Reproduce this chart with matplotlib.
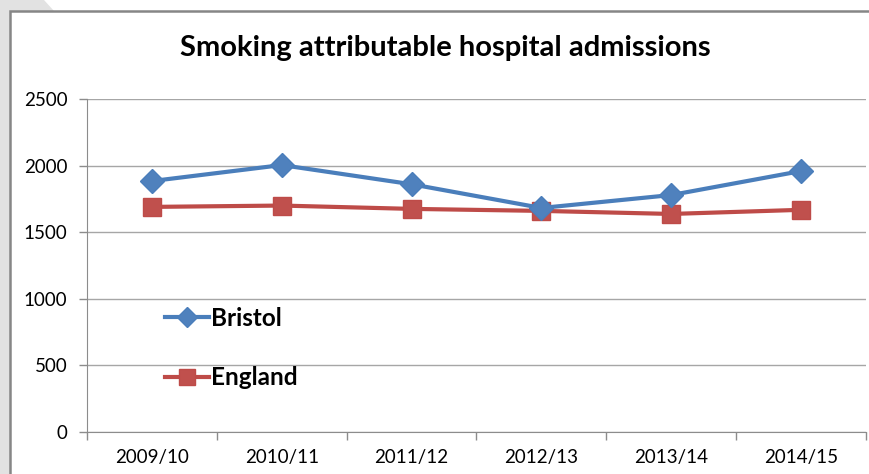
import matplotlib
matplotlib.use("Agg")
import matplotlib.pyplot as plt
from matplotlib.patches import Polygon, Rectangle

years = ["2009/10", "2010/11", "2011/12", "2012/13", "2013/14", "2014/15"]
bristol = [1884, 2004, 1860, 1682, 1779, 1959]
england = [1690, 1700, 1675, 1660, 1637, 1668]

plt.rcParams['font.family'] = ['Lato', 'DejaVu Sans']

fig = plt.figure(figsize=(8.7, 4.74), dpi=100)

# grey decoration outside the chart frame (pixel coords -> figure fractions)
W, H = 870.0, 474.0
def fx(x): return x / W
def fy(y): return 1 - y / H
grey = Polygon([(fx(0), fy(0)), (fx(44), fy(0)), (fx(54), fy(11)), (fx(10), fy(11)),
                (fx(10), fy(474)), (fx(0), fy(474))],
               closed=True, transform=fig.transFigure, facecolor="#e2e2e2",
               edgecolor="none", zorder=0)
fig.patches.append(grey)
# chart frame
frame = Rectangle((fx(10), fy(480)), fx(880) - fx(10), fy(11) - fy(480),
                  transform=fig.transFigure, facecolor="white",
                  edgecolor="#868686", linewidth=1.8, zorder=1)
fig.patches.append(frame)

ax = fig.add_axes([87 / W, 1 - 432 / H, 779 / W, 333 / H])
ax.set_facecolor("none")
ax.set_zorder(2)

x = list(range(len(years)))
ax.plot(x, bristol, color="#4a7ebb", linewidth=3, marker="D", markersize=12,
        markerfacecolor="#4f81bd", markeredgecolor="#4a7ebb", label="Bristol",
        solid_joinstyle="round", zorder=4)
ax.plot(x, england, color="#be4b48", linewidth=3, marker="s", markersize=13,
        markerfacecolor="#c0504d", markeredgecolor="#be4b48", label="England",
        zorder=3)

ax.set_xlim(-0.5, len(years) - 0.5)
ax.set_ylim(0, 2500)
ax.set_yticks([0, 500, 1000, 1500, 2000, 2500])
ax.set_xticks(x)
ax.set_xticklabels(years)
ax.set_xticks([i - 0.5 for i in range(len(years) + 1)], minor=True)
ax.tick_params(axis="x", which="major", length=0, pad=12, labelsize=13.5)
ax.tick_params(axis="x", which="minor", length=6, color="#8c8c8c", width=1)
ax.tick_params(axis="y", length=6, color="#8c8c8c", width=1, pad=8, labelsize=13.5)
ax.grid(axis="y", color="#a6a6a6", linewidth=1)
ax.set_axisbelow(True)
for side in ["top", "right"]:
    ax.spines[side].set_visible(False)
ax.spines["left"].set_color("#8c8c8c")
ax.spines["bottom"].set_color("#8c8c8c")

leg = ax.legend(loc="center left", bbox_to_anchor=(0.1, 0.252), frameon=False,
                prop={"weight": "bold", "size": 17.5}, labelspacing=1.5,
                handlelength=1.8, handletextpad=0.1, borderaxespad=0,
                borderpad=0, markerscale=0.85)

fig.text(445 / W, 1 - 48 / H, "Smoking attributable hospital admissions",
         ha="center", va="center", fontsize=21, fontweight="bold", zorder=5)

fig.savefig("out.png", dpi=100)
